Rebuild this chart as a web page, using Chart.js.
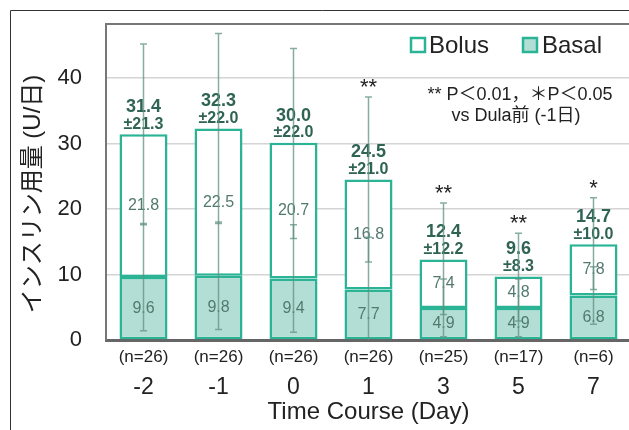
<!DOCTYPE html>
<html>
<head>
<meta charset="utf-8">
<script src="https://cdn.jsdelivr.net/npm/chart.js@4.4.0/dist/chart.umd.min.js"></script>
<style>
html, body { margin: 0; padding: 0; background: #fff; overflow: hidden; }
#wrap { position: relative; width: 629px; height: 430px; overflow: hidden; }
canvas { display: block; }
</style>
</head>
<body>
<div id="wrap"><canvas id="chart" width="634" height="430"></canvas></div>
<script>
// データ
const days = ['-2', '-1', '0', '1', '3', '5', '7'];
const nLabels = ['(n=26)', '(n=26)', '(n=26)', '(n=26)', '(n=25)', '(n=17)', '(n=6)'];
const basal = [9.6, 9.8, 9.4, 7.7, 4.9, 4.9, 6.8];
const bolus = [21.8, 22.5, 20.7, 16.8, 7.4, 4.8, 7.8];
const totals = [31.4, 32.3, 30.0, 24.5, 12.4, 9.6, 14.7];
const totalSD = [21.3, 22.0, 22.0, 21.0, 12.2, 8.3, 10.0];
const basalErr = [8.2, 8.2, 8.2, 8.0, 4.4, 4.4, 4.4];
const bolusErr = [13.8, 14.5, 14.5, 12.6, 8.5, 6.7, 7.0];
const marks = ['', '', '', '**', '**', '**', '*'];
const yTicks = [0, 10, 20, 30, 40];

const FONT = "'Liberation Sans', 'Noto Sans CJK JP', sans-serif";
const TEAL = '#2ab495';
const BASAL_FILL = '#b3ded5';

Chart.defaults.font.family = FONT;

// 枠線
const framePlugin = {
    id: 'frame',
    beforeDraw(chart) {
        const ctx = chart.ctx;
        const a = chart.chartArea;
        ctx.save();
        ctx.fillStyle = '#fff';
        ctx.fillRect(0, 0, chart.width, chart.height);
        ctx.strokeStyle = '#333';
        ctx.lineWidth = 1;
        ctx.beginPath();
        ctx.moveTo(10.5, 430);
        ctx.lineTo(10.5, 10.5);
        ctx.lineTo(chart.width, 10.5);
        ctx.stroke();
        ctx.strokeStyle = '#777';
        ctx.lineWidth = 2;
        ctx.beginPath();
        ctx.moveTo(a.left, a.top);
        ctx.lineTo(a.right, a.top);
        ctx.stroke();
        // 縦軸タイトル
        ctx.translate(33, 194);
        ctx.rotate(-Math.PI / 2);
        ctx.fillStyle = '#222';
        ctx.font = '24px ' + FONT;
        ctx.textAlign = 'center';
        ctx.textBaseline = 'middle';
        ctx.fillText('インスリン用量 (U/日)', 0, 0);
        ctx.restore();
    }
};

// 数値ラベル・誤差線・凡例
const labelPlugin = {
    id: 'labels',
    afterDatasetsDraw(chart) {
        const ctx = chart.ctx;
        const y = chart.scales.y;
        const x = chart.scales.x;
        const metaBasal = chart.getDatasetMeta(0);
        const metaBolus = chart.getDatasetMeta(1);
        ctx.save();
        ctx.textAlign = 'center';
        ctx.textBaseline = 'middle';

        // 各セグメントの値
        ctx.fillStyle = '#52796f';
        ctx.font = '16px ' + FONT;
        metaBasal.data.forEach((bar, i) => {
            ctx.fillText(basal[i].toFixed(1), bar.x, (bar.y + bar.base) / 2);
        });
        metaBolus.data.forEach((bar, i) => {
            ctx.fillText(bolus[i].toFixed(1), bar.x, (bar.y + bar.base) / 2);
        });

        // 合計 ± SD
        ctx.fillStyle = '#2f6354';
        metaBolus.data.forEach((bar, i) => {
            ctx.font = 'bold 18px ' + FONT;
            ctx.fillText(totals[i].toFixed(1), bar.x, bar.y - 27);
            ctx.font = 'bold 16px ' + FONT;
            ctx.fillText('±' + totalSD[i].toFixed(1), bar.x, bar.y - 10);
        });

        // 誤差線
        ctx.strokeStyle = 'rgba(95,145,130,0.75)';
        ctx.lineWidth = 1.5;
        const seg = (cx, lo, hi) => {
            const y1 = y.getPixelForValue(Math.max(0, lo));
            const y2 = y.getPixelForValue(hi);
            ctx.beginPath();
            ctx.moveTo(cx, y1);
            ctx.lineTo(cx, y2);
            if (lo > 0) { ctx.moveTo(cx - 3.5, y1); ctx.lineTo(cx + 3.5, y1); }
            ctx.moveTo(cx - 3.5, y2);
            ctx.lineTo(cx + 3.5, y2);
            ctx.stroke();
        };
        metaBolus.data.forEach((bar, i) => {
            seg(bar.x, basal[i] - basalErr[i], basal[i] + basalErr[i]);
            seg(bar.x, totals[i] - bolusErr[i], totals[i] + bolusErr[i]);
        });

        // 有意差マーク
        ctx.fillStyle = '#222';
        ctx.font = '22px ' + FONT;
        ctx.textBaseline = 'top';
        metaBolus.data.forEach((bar, i) => {
            if (!marks[i]) return;
            const top = y.getPixelForValue(totals[i] + bolusErr[i]);
            ctx.fillText(marks[i], bar.x, top - 20);
        });

        // n数
        ctx.textBaseline = 'middle';
        ctx.font = '17px ' + FONT;
        ctx.fillStyle = '#222';
        nLabels.forEach((t, i) => {
            ctx.fillText(t, x.getPixelForValue(i), 357);
        });

        // 注釈
        ctx.font = '18px ' + FONT;
        ctx.fillText('** P＜0.01，＊P＜0.05', 520, 95);
        ctx.fillText('vs Dula前 (-1日)', 516, 116);

        // 凡例
        const items = [
            { label: 'Bolus', fill: '#fff', bx: 411, tx: 429 },
            { label: 'Basal', fill: BASAL_FILL, bx: 523, tx: 542 }
        ];
        ctx.textAlign = 'left';
        ctx.font = '24px ' + FONT;
        items.forEach(it => {
            ctx.fillStyle = it.fill;
            ctx.fillRect(it.bx, 38, 14, 14);
            ctx.strokeStyle = TEAL;
            ctx.lineWidth = 2.5;
            ctx.strokeRect(it.bx, 38, 14, 14);
            ctx.fillStyle = '#222';
            ctx.fillText(it.label, it.tx, 46);
        });
        ctx.restore();
    }
};

new Chart(document.getElementById('chart'), {
    type: 'bar',
    data: {
        labels: days,
        datasets: [{
            label: 'Basal',
            data: basal,
            backgroundColor: BASAL_FILL,
            borderColor: TEAL,
            borderWidth: 2.5,
            borderSkipped: false
        }, {
            label: 'Bolus',
            data: bolus,
            backgroundColor: '#fff',
            borderColor: TEAL,
            borderWidth: 2.5,
            borderSkipped: false
        }]
    },
    options: {
        responsive: false,
        animation: false,
        layout: { padding: { top: 24, right: 3, left: 0, bottom: 0 } },
        datasets: { bar: { categoryPercentage: 1, barPercentage: 0.64 } },
        plugins: { legend: { display: false }, tooltip: { enabled: false } },
        scales: {
            x: {
                stacked: true,
                grid: { display: false },
                border: { color: '#666', width: 3 },
                ticks: { color: '#222', font: { size: 23 }, padding: 26 },
                title: {
                    display: true, text: 'Time Course (Day)', color: '#222',
                    font: { size: 24 }, padding: { top: 0, bottom: 3 }
                },
                afterFit: s => { s.height = 90; }
            },
            y: {
                stacked: true,
                min: 0,
                max: 48.24,
                afterBuildTicks: s => { s.ticks = yTicks.map(v => ({ value: v })); },
                grid: { color: '#d4d4d4', lineWidth: 1.5, drawTicks: false },
                border: { color: '#777', width: 2 },
                ticks: { color: '#222', font: { size: 22 }, padding: 24 },
                afterFit: s => { s.width = 106; s.paddingTop = 0; s.paddingBottom = 0; }
            }
        }
    },
    plugins: [framePlugin, labelPlugin]
});
</script>
</body>
</html>
